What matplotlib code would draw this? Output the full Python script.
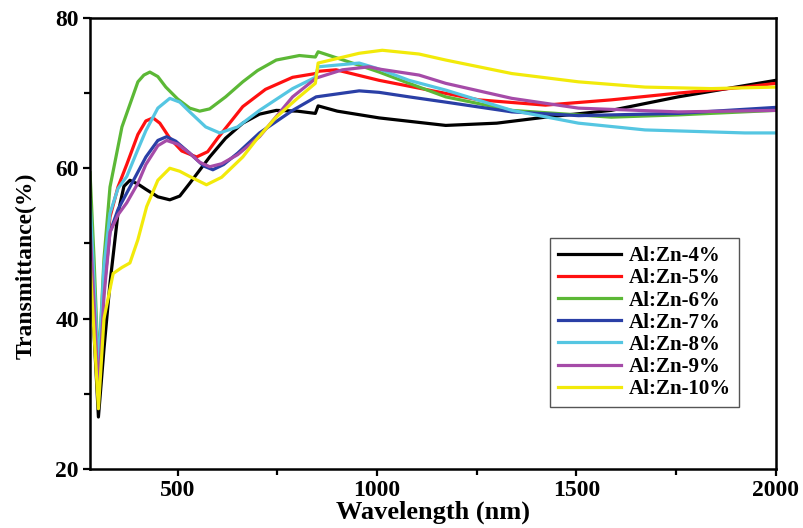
import matplotlib.pyplot as plt
from matplotlib.ticker import MultipleLocator

plt.rcParams['font.family'] = ['Liberation Serif', 'DejaVu Serif']
plt.rcParams['font.weight'] = 'bold'

labels = ['Al:Zn-4%', 'Al:Zn-5%', 'Al:Zn-6%', 'Al:Zn-7%', 'Al:Zn-8%', 'Al:Zn-9%', 'Al:Zn-10%']
colors = ['#000000', '#ff1010', '#5cb836', '#2a3fa6', '#55c6e2', '#a54ba8', '#f2ea0a']

# wavelength (nm) / transmittance (%)
wl_4 = [280, 290, 301, 315, 330, 350, 365, 380, 400, 420, 450, 480, 505, 530, 580, 620, 663, 705, 747, 800, 845, 852, 900, 1005, 1172, 1300, 1422, 1587, 1755, 1922, 2000]
t_4 = [48, 38, 26.9, 36, 44.7, 54, 57.6, 58.4, 57.9, 57.2, 56.2, 55.8, 56.3, 58.0, 61.5, 64.0, 66.0, 67.2, 67.7, 67.6, 67.3, 68.3, 67.6, 66.7, 65.7, 66.0, 66.8, 67.7, 69.5, 71.0, 71.7]

wl_5 = [280, 290, 301, 315, 330, 350, 372, 400, 420, 438, 455, 480, 510, 547, 575, 600, 663, 720, 788, 845, 852, 897, 1005, 1255, 1422, 1587, 1755, 1922, 2000]
t_5 = [52, 42, 30.5, 45, 53.5, 57.5, 60.5, 64.5, 66.3, 66.7, 66.0, 64.0, 62.3, 61.5, 62.2, 64.0, 68.2, 70.5, 72.1, 72.6, 72.9, 73.1, 71.7, 69.1, 68.4, 69.1, 70.0, 70.8, 71.3]

wl_6 = [280, 290, 301, 315, 330, 360, 400, 415, 430, 450, 470, 500, 530, 555, 580, 620, 663, 700, 747, 805, 845, 852, 955, 1005, 1080, 1172, 1338, 1587, 1755, 2000]
t_6 = [59.4, 48, 33, 48, 57.5, 65.5, 71.5, 72.4, 72.8, 72.2, 70.8, 69.2, 68.0, 67.6, 67.9, 69.5, 71.5, 73.0, 74.4, 75.0, 74.8, 75.5, 73.7, 72.8, 71.3, 69.5, 67.7, 66.8, 67.1, 67.7]

wl_7 = [280, 290, 301, 315, 330, 350, 380, 420, 450, 472, 495, 530, 565, 588, 615, 650, 705, 788, 847, 955, 1005, 1080, 1172, 1338, 1505, 1755, 2000]
t_7 = [52, 42, 31, 44, 51.5, 54.5, 57.5, 61.5, 63.7, 64.2, 63.6, 62.0, 60.3, 59.8, 60.5, 62.0, 64.7, 67.7, 69.5, 70.3, 70.1, 69.5, 68.8, 67.5, 67.0, 67.3, 68.1]

wl_8 = [280, 290, 301, 315, 330, 350, 372, 400, 420, 450, 480, 505, 530, 570, 605, 650, 705, 788, 845, 852, 955, 1005, 1080, 1172, 1338, 1505, 1672, 1922, 2000]
t_8 = [55.8, 45, 33, 47, 54, 57.3, 58.9, 62.5, 65.0, 68.0, 69.3, 68.8, 67.5, 65.5, 64.7, 65.5, 67.7, 70.6, 72.1, 73.5, 74.0, 73.2, 71.7, 70.4, 67.7, 66.0, 65.1, 64.7, 64.7]

wl_9 = [280, 290, 301, 315, 330, 350, 372, 400, 420, 450, 472, 500, 530, 555, 580, 610, 650, 705, 788, 847, 913, 980, 1005, 1105, 1172, 1338, 1505, 1755, 2000]
t_9 = [52, 42, 30, 43, 51.5, 53.8, 55.4, 58.0, 60.5, 63.0, 63.7, 63.2, 62.0, 60.8, 60.2, 60.6, 61.8, 64.2, 69.5, 72.0, 73.1, 73.5, 73.2, 72.4, 71.3, 69.3, 68.0, 67.5, 67.7]

wl_10 = [280, 290, 301, 315, 338, 360, 380, 400, 422, 450, 480, 505, 530, 572, 610, 663, 700, 747, 800, 845, 852, 955, 1013, 1105, 1172, 1338, 1505, 1672, 1838, 2000]
t_10 = [47.4, 38, 28, 40, 46.0, 46.8, 47.4, 50.5, 54.9, 58.4, 60.0, 59.6, 58.9, 57.8, 58.8, 61.5, 64.0, 66.8, 69.3, 71.3, 74.0, 75.3, 75.7, 75.2, 74.4, 72.6, 71.5, 70.8, 70.6, 70.8]

wavelengths = [wl_4, wl_5, wl_6, wl_7, wl_8, wl_9, wl_10]
transmittance = [t_4, t_5, t_6, t_7, t_8, t_9, t_10]

fig = plt.figure(figsize=(8.04, 5.28), dpi=100)
ax = fig.add_axes([0.112, 0.112, 0.853, 0.854])

for wl, t, c, lab in zip(wavelengths, transmittance, colors, labels):
    ax.plot(wl, t, color=c, linewidth=2.3, label=lab, solid_joinstyle='round')

ax.set_xlim(280, 2000)
ax.set_ylim(20, 80)
ax.xaxis.set_major_locator(MultipleLocator(500))
ax.xaxis.set_minor_locator(MultipleLocator(250))
ax.yaxis.set_major_locator(MultipleLocator(20))
ax.yaxis.set_minor_locator(MultipleLocator(10))
ax.tick_params(which='major', length=5, width=1.6, labelsize=17, pad=3)
ax.tick_params(which='minor', length=4, width=1.6)
for s in ax.spines.values():
    s.set_linewidth(1.8)

ax.set_xlabel('Wavelength (nm)', fontsize=19, fontweight='bold', labelpad=0)
ax.set_ylabel('Transmittance(%)', fontsize=17, fontweight='bold')
ax.yaxis.set_label_coords(-0.078, 0.45)

leg = ax.legend(loc='upper left', bbox_to_anchor=(0.655, 0.535), fontsize=15, handlelength=3.0,
                labelspacing=0.1, fancybox=False, framealpha=1, borderpad=0.4, handletextpad=0.4)
leg.get_frame().set_edgecolor('#555555')
leg.get_frame().set_linewidth(1.0)

fig.savefig('out.png', dpi=100)
